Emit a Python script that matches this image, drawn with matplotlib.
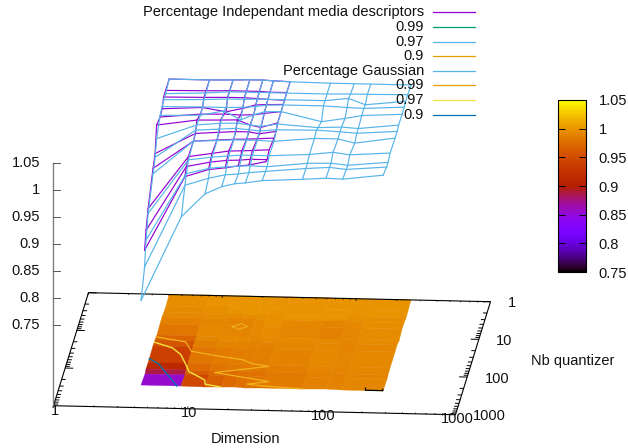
import numpy as np
import matplotlib
matplotlib.use("Agg")
import matplotlib.pyplot as plt
from matplotlib.colors import Normalize
from matplotlib.cm import ScalarMappable

plt.rcParams['font.family'] = ['Liberation Sans', 'DejaVu Sans']

# ---- data ----
dims_ind = [4, 8, 12, 16, 20, 24, 32]
quant_ind = [1, 2, 3, 4, 6, 12, 16, 24, 64, 96, 128]
z_ind = [
    [.999, .999, 1.0, 1.001, 1.001, 1.0, .999],
    [.999, 1.0, 1.001, 1.001, 1.001, 1.0, 1.0],
    [.999, 1.0, 1.001, 1.001, 1.0, .999, .998],
    [.986, .99, .983, .99, .997, .998, .999],
    [.983, .99, .991, .99, .991, .994, .998],
    [.989, 1.0, 1.001, 1.002, .993, .989, .998],
    [.945, .984, .987, .989, .989, .986, .991],
    [.93, .982, .985, .987, .988, .989, .991],
    [.885, .983, .99, .995, .996, .997, .999],
    [.857, .977, .986, .99, .991, .993, .993],
    [.829, .967, .981, .985, .989, .991, .998],
]
dims_gauss = [4, 8, 12, 16, 20, 24, 32, 64, 96, 128, 256]
quant_gauss = [1, 2, 3, 4, 6, 12, 16, 24, 64, 96, 128, 256]
z_gauss = [
    [.999, .999, 1.0, 1.001, 1.001, 1.0, .999, .998, .998, .998, .998],
    [.993, .996, .999, .999, .999, .999, .999, .999, 1.0, 1.0, 1.001],
    [.994, .996, .998, .998, .999, .999, .999, .999, 1.004, .993, 1.001],
    [.99, .991, .991, .992, .994, .997, .998, .998, .996, .995, .999],
    [.986, .988, .997, .981, .991, .997, .998, .981, .988, .994, .998],
    [.964, .991, .995, .996, .993, .991, .996, .991, .993, .991, .999],
    [.938, .99, .993, .995, .993, .991, .994, .995, .993, .991, .996],
    [.92, .982, .984, .986, .986, .986, .985, .992, .992, .985, .996],
    [.876, .977, .983, .986, .988, .988, .988, .992, .997, .993, .998],
    [.839, .964, .975, .978, .98, .981, .98, .988, .989, .986, .993],
    [.798, .951, .965, .972, .974, .977, .98, .987, .99, .987, .993],
    [.757, .914, .957, .971, .977, .979, .984, .988, .991, .99, .999],
]
# base-plane contours: (dimension, nb quantizer)
cont99_d = [4, 6.8, 7.9, 12.2, 19.6, 23.8, 32, 13.1, 34.6, 24.3, 31.6, 63.8]
cont99_q = [13.3, 17.3, 30.4, 38.3, 47.2, 59.5, 68.6, 107, 172, 208, 226, 256]
loop99_d = [14, 15.9, 18, 15.9, 14]
loop99_q = [6.5, 5.3, 6.3, 7.5, 6.5]
cont97_d = [4, 5.6, 6.7, 7.9, 8.4, 11.5, 11.9, 15.7]
cont97_q = [18.4, 25.4, 37.8, 76.7, 104, 170, 221, 256]
cont90_d = [4, 4.8, 6.35, 7.4]
cont90_q = [50.5, 67.7, 160, 256]
mark_d = [187, 189, 255, 253]
mark_q = [226, 256, 256, 236]

z_ticks = [.75, .8, .85, .9, .95, 1, 1.05]
z_tick_labels = ['0.75', '0.8', '0.85', '0.9', '0.95', '1', '1.05']
log_ticks = [1, 10, 100, 1000]
log_tick_labels = ['1', '10', '100', '1000']
legend_entries = [
    ('Percentage Independant media descriptors', '#9400d3'),
    ('0.99', '#009e73'), ('0.97', '#56b4e9'), ('0.9', '#e69f00'),
    ('Percentage Gaussian', '#56b4e9'),
    ('0.99', '#e69f00'), ('0.97', '#f0e442'), ('0.9', '#0072b2'),
]

FS = 10.5
TXT = '#111111'

# ---- view: orthographic projection of (log d, log q, z) on the page ----
Z_BASE = 0.6
def project(d, q, z=Z_BASE):
    a = np.log10(np.asarray(d, float))
    b = np.log10(np.asarray(q, float))
    z = np.asarray(z, float)
    return 88.5 + 134.0 * a - 11.67 * b, 49.7 + 3.0 * a + 37.67 * b + 540.0 * (1.05 - z)

fig = plt.figure(figsize=(6.28, 4.48), dpi=100)
ax = fig.add_axes([0, 0, 1, 1])
ax.set_xlim(0, 628)
ax.set_ylim(448, 0)
ax.axis('off')

cmap = plt.get_cmap('gnuplot')
norm = Normalize(0.75, 1.05)

# pm3d map on the base plane
Zg = np.array(z_gauss)
D, Q = np.meshgrid(dims_gauss, quant_gauss)
Xs, Ys = project(D, Q)
C = (Zg[:-1, :-1] + Zg[1:, :-1] + Zg[:-1, 1:] + Zg[1:, 1:]) / 4
ax.pcolormesh(Xs, Ys, C, cmap=cmap, norm=norm, shading='flat', edgecolors='face',
              linewidth=0.3, antialiased=True, zorder=1)

# contours
def base_line(d, q, color, lw=1.0):
    x, y = project(d, q)
    ax.plot(x, y, color=color, lw=lw, zorder=2, solid_joinstyle='round')
base_line(cont99_d, cont99_q, '#f2b21e', 0.9)
base_line(loop99_d, loop99_q, '#f2b21e', 0.7)
base_line(cont97_d, cont97_q, '#f0e442', 1.0)
base_line(cont90_d, cont90_q, '#0072b2', 1.0)
base_line(mark_d, mark_q, 'black', 0.9)

# base border and ticks
def seg(d, q, z=Z_BASE, color='black', lw=0.8, zo=3):
    x, y = project(d, q, z)
    ax.plot(x, y, color=color, lw=lw, zorder=zo, solid_capstyle='butt')
seg([1, 1000, 1000, 1, 1], [1, 1, 1000, 1000, 1])
for dec in range(3):
    for m in range(1, 10):
        v = m * 10 ** dec
        t = 0.06 if m == 1 else 0.03
        f = 10 ** t
        seg([v, v], [1, f], lw=0.6)
        seg([v, v], [1000, 1000 / f], lw=0.6)
        seg([1, f], [v, v], lw=0.7)
        seg([1000, 1000 / f], [v, v], lw=0.7)

# z axis at the front-left corner
zx, _ = project(1, 1000)
_, ytop = project(1, 1000, z_ticks[-1])
_, ybot = project(1, 1000)
ax.plot([zx, zx], [ytop, ybot + 1], color='#808080', lw=1.0, zorder=3)
for tv, tl in zip(z_ticks, z_tick_labels):
    _, yt = project(1, 1000, tv)
    ax.plot([zx, zx + 7], [yt, yt], color='#555555', lw=0.7, zorder=3)
    ax.text(40, yt, tl, ha='right', va='center', fontsize=FS, color=TXT)

# tick labels
for v, l, off in zip(log_ticks, log_tick_labels, [21, 25, 30, 33.5]):
    x, y = project(v, 1000)
    ax.text(x + 1.5, y + (5 if v == 1 else 4.5), l, ha='center', va='center', fontsize=FS, color=TXT)
    x, y = project(1000, v)
    ax.text(x + off, y + 1.5, l, ha='center', va='center', fontsize=FS, color=TXT)
ax.text(246, 439, 'Dimension', ha='center', va='center', fontsize=FS, color=TXT)
ax.text(573, 361, 'Nb quantizer', ha='center', va='center', fontsize=FS, color=TXT)

# surfaces
def mesh(dims, quants, table, color, zo):
    Z = np.array(table)
    DD, QQ = np.meshgrid(dims, quants)
    X, Y = project(DD, QQ, Z)
    ax.plot(X, Y, color=color, lw=0.85, zorder=zo)
    ax.plot(X.T, Y.T, color=color, lw=0.85, zorder=zo)
mesh(dims_ind, quant_ind, z_ind, '#9400d3', 4)
mesh(dims_gauss, quant_gauss, z_gauss, '#56b4e9', 5)

# key
for i, (lab, col) in enumerate(legend_entries):
    yk = 12.3 + 14.63 * i
    ax.text(424, yk, lab, ha='right', va='center', fontsize=FS, color=TXT, zorder=6)
    ax.plot([433, 475], [yk, yk], color=col, lw=0.9, zorder=6)

# colour box
cax = fig.add_axes([558 / 628, 1 - 272 / 448, 28 / 628, 172 / 448])
cb = fig.colorbar(ScalarMappable(norm=norm, cmap=cmap), cax=cax)
cb.set_ticks(z_ticks)
cb.set_ticklabels(z_tick_labels)
cax.tick_params(axis='y', direction='in', left=True, right=True, length=5, width=0.7,
                labelsize=FS, pad=9, labelcolor=TXT)
cb.outline.set_linewidth(0.8)

fig.savefig('out.png', dpi=100)
